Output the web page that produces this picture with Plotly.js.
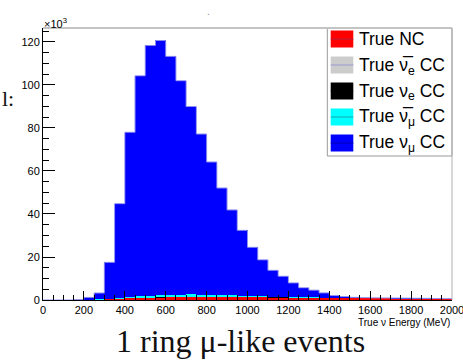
<!DOCTYPE html>
<html><head><meta charset="utf-8">
<script src="https://cdn.plot.ly/plotly-3.0.1.min.js"></script>
<style>html,body{margin:0;padding:0;background:#fff;overflow:hidden}#chart{width:463px;height:363px}
.legend .legendpoints{display:none !important}</style>
</head><body><div id="chart"></div>
<script>
// Bin centres (MeV), 50 MeV wide bins from 0 to 2000
const binCenters = [25,75,125,175,225,275,325,375,425,475,525,575,625,675,725,775,825,875,925,975,
                    1025,1075,1125,1175,1225,1275,1325,1375,1425,1475,1525,1575,1625,1675,1725,1775,1825,1875,1925,1975];
const binWidth = 50;
// Event counts in units of 10^3, per component (stacked bottom -> top)
const trueNC =      [0,0,0,0,0.1,0.2,0.3,0.5,0.7,0.9,1.0,1.1,1.2,1.2,1.3,1.3,1.3,1.3,1.3,1.2,
                     1.2,1.2,1.1,1.1,1.0,1.0,1.0,0.9,0.9,0.8,0.8,0.7,0.7,0.7,0.6,0.6,0.6,0.5,0.5,0.5];
const trueNueBarCC =[0,0,0,0,0,0,0,0,0.03,0.03,0.03,0.03,0.03,0.03,0.03,0.03,0.03,0.03,0.03,0.03,
                     0.03,0.03,0.03,0.02,0.02,0.02,0.02,0.02,0.02,0.02,0.02,0,0,0,0,0,0,0,0,0];
const trueNueCC =   [0,0,0,0,0,0,0,0.02,0.06,0.06,0.06,0.06,0.06,0.06,0.06,0.06,0.06,0.06,0.06,0.06,
                     0.06,0.06,0.06,0.06,0.04,0.04,0.04,0.04,0.04,0.04,0.04,0,0,0,0,0,0,0,0,0];
const trueNumuBarCC=[0,0,0,0,0,0.05,0.2,0.4,0.6,0.8,1.0,1.1,1.2,1.2,1.2,1.1,1.0,0.9,0.8,0.7,
                     0.6,0.5,0.4,0.35,0.3,0.25,0.2,0.15,0.12,0.1,0.08,0.05,0.05,0.05,0.05,0.05,0.05,0.05,0.05,0.05];
const trueNumuCC =  [0,0,0,0.2,1.1,3.0,17.0,43.9,76.6,102.5,116.3,118.4,110.8,99.5,87.4,74.7,61.8,49.8,39.7,30.4,
                     22.6,16.9,12.2,9.5,6.6,4.4,3.3,2.2,1.0,0.65,0.3,0.35,0.25,0.2,0.25,0.2,0.15,0.2,0.15,0.1];
const xTickVals = [0,200,400,600,800,1000,1200,1400,1600,1800,2000];
const yTickVals = [0,20,40,60,80,100,120];

const comps = [
  {y: trueNC,        name: 'True NC',                     color: '#ff0000', edge: '#b02040'},
  {y: trueNueBarCC,  name: 'True ν\u0305<sub>e</sub> CC', color: '#cccccc', edge: '#9a9ad0'},
  {y: trueNueCC,     name: 'True ν<sub>e</sub> CC',       color: '#000000', edge: '#000000'},
  {y: trueNumuBarCC, name: 'True ν\u0305<sub>μ</sub> CC', color: '#00ffff', edge: '#10a8b0'},
  {y: trueNumuCC,    name: 'True ν<sub>μ</sub> CC',       color: '#0000ff', edge: '#0000b0'}
];
const traces = comps.map((c, i) => ({
  type: 'bar', x: binCenters, y: c.y, width: binWidth, name: c.name,
  marker: {color: c.color, line: {width: 0}}, legendgroup: 'g' + i, hoverinfo: 'skip'
}));
// outline of the stack (top edge)
const totals = binCenters.map((_, k) => comps.reduce((s, c) => s + c.y[k], 0));
const edges = binCenters.map(c => c - binWidth / 2).concat([binCenters[binCenters.length - 1] + binWidth / 2]);
traces.push({type: 'scatter', mode: 'lines', x: edges, y: totals.concat([totals[totals.length - 1]]),
  line: {shape: 'hv', color: '#8f8fef', width: 1}, showlegend: false, hoverinfo: 'skip'});

// plot area in pixels: left 43, right 452, top 28, bottom 300
const px = v => (v - 43) / 409, py = v => (300 - v) / 272;
const shapes = [
  {type: 'rect', xref: 'paper', yref: 'paper', x0: px(327.3), x1: 1, y0: py(156), y1: 1, layer: 'above',
   fillcolor: '#fff', line: {color: '#999999', width: 1}},
  {type: 'line', xref: 'paper', yref: 'paper', x0: 0, x1: 1, y0: 1, y1: 1, line: {color: '#c4c4c4', width: 2}},
  {type: 'line', xref: 'paper', yref: 'paper', x0: 1, x1: 1, y0: 0, y1: 1, line: {color: '#b0b0b0', width: 1}}
];
// ROOT-style legend swatches (fill box with the histogram line through it)
comps.forEach((c, i) => {
  const cy = 39 + i * 26;
  shapes.push({type: 'rect', xref: 'paper', yref: 'paper', x0: px(330.7), x1: px(353.3), y0: py(cy + 8.5), y1: py(cy - 8.5),
               layer: 'above', fillcolor: c.color, line: {width: 0}});
  shapes.push({type: 'line', xref: 'paper', yref: 'paper', x0: px(330.7), x1: px(353.3), y0: py(cy), y1: py(cy),
               layer: 'above', line: {color: c.edge, width: 1}});
});

const tickFont = {family: 'Liberation Sans, Arial, sans-serif', size: 11, color: '#000'};
const layout = {
  width: 463, height: 363,
  margin: {l: 43, r: 11, t: 28, b: 63, pad: 0},
  paper_bgcolor: '#fff', plot_bgcolor: '#fff',
  barmode: 'stack', bargap: 0, showlegend: true,
  xaxis: {range: [0, 2000], tickmode: 'array', tickvals: xTickVals, ticks: 'inside', ticklen: 9, tickcolor: '#000',
          minor: {dtick: 50, ticks: 'inside', ticklen: 5, tickcolor: '#000'}, ticklabeloverflow: 'allow',
          showgrid: false, zeroline: false, showline: true, linecolor: '#000', linewidth: 1, tickfont: tickFont},
  yaxis: {range: [0, 126.5], tickmode: 'array', tickvals: yTickVals, ticks: 'inside', ticklen: 12, tickcolor: '#000',
          minor: {dtick: 5, ticks: 'inside', ticklen: 6, tickcolor: '#000'},
          showgrid: false, zeroline: false, showline: true, linecolor: '#000', linewidth: 1, tickfont: tickFont},
  legend: {x: 0.6748, xanchor: 'left', y: 1.0275, yanchor: 'top', traceorder: 'normal', tracegroupgap: 5.2,
           bgcolor: 'rgba(0,0,0,0)', borderwidth: 0,
           font: {family: 'Liberation Sans, Arial, sans-serif', size: 17.5, color: '#000'}},
  shapes: shapes,
  annotations: [
    {text: 'True ν Energy (MeV)', xref: 'paper', yref: 'paper', x: 1, y: -0.081, xanchor: 'right', yanchor: 'middle',
     showarrow: false, font: {family: 'Liberation Sans, Arial, sans-serif', size: 10, color: '#000'}},
    {text: '×10<sup>3</sup>', xref: 'paper', yref: 'paper', x: -0.003, y: 0.985, xanchor: 'left', yanchor: 'bottom',
     showarrow: false, font: {family: 'Liberation Sans, Arial, sans-serif', size: 11, color: '#000'}},
    {text: '1 ring μ-like events', xref: 'paper', yref: 'paper', x: 0.4817, y: -0.152, xanchor: 'center', yanchor: 'middle',
     showarrow: false, font: {family: 'Liberation Serif, Times New Roman, serif', size: 32, color: '#111'}},
    {text: 'l:', xref: 'paper', yref: 'paper', x: -0.105, y: 0.74, xanchor: 'left', yanchor: 'middle',
     showarrow: false, font: {family: 'Liberation Serif, Times New Roman, serif', size: 22, color: '#111'}},
    {text: '.', xref: 'paper', yref: 'paper', x: 0.405, y: 1.06, xanchor: 'center', yanchor: 'middle',
     showarrow: false, font: {family: 'Liberation Sans, Arial, sans-serif', size: 10, color: '#888'}}
  ]
};
Plotly.newPlot('chart', traces, layout, {displayModeBar: false, staticPlot: true});
</script>
</body></html>
